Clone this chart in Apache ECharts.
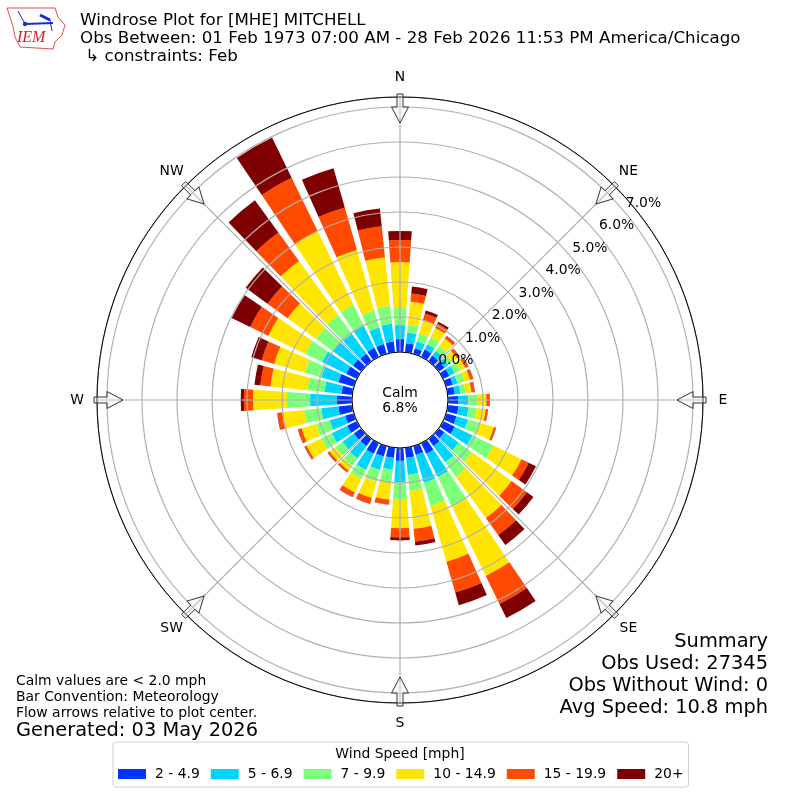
<!DOCTYPE html>
<html><head><meta charset="utf-8">
<style>html,body{margin:0;padding:0;background:#fff}#c{width:800px;height:800px}</style>
<script src="https://cdn.jsdelivr.net/npm/echarts@6/dist/echarts.min.js"></script>
</head><body><div id="c"></div>
<script>
const directions = [0,10,20,30,40,50,60,70,80,90,100,110,120,130,140,150,160,170,180,190,200,210,220,230,240,250,260,270,280,290,300,310,320,330,340,350];
const speed2to5 = [.37,.26,.17,.23,.20,.20,.20,.20,.20,.29,.31,.31,.37,.20,.26,.34,.26,.29,.37,.29,.31,.34,.26,.26,.31,.26,.40,.43,.31,.46,.34,.29,.26,.29,.29,.31];
const speed5to7 = [.40,.31,.20,.17,.17,.14,.17,.14,.17,.29,.29,.34,.57,.51,.57,.74,.83,.49,.60,.34,.40,.51,.43,.40,.49,.46,.49,.77,.49,.51,.77,.71,.71,.71,.49,.51];
const speed7to10 = [.49,.23,.23,.23,.17,.14,.17,.20,.14,.26,.23,.34,.66,.46,.51,.94,.69,.46,.49,.37,.34,.29,.26,.26,.34,.40,.49,.66,.49,.49,.54,.60,.66,.66,.51,.51];
const speed10to15 = [1.31,.66,.40,.29,.26,.17,.17,.17,.17,.26,.26,.43,.89,1.40,1.46,2.20,1.66,1.09,.83,.49,.49,.43,.17,.20,.46,.43,.63,.97,1.06,.91,1.17,1.00,1.91,2.34,1.80,1.40];
const speed15to20 = [.63,.23,.20,.14,.09,.09,.09,.09,.09,.09,.06,.06,.23,.54,.60,.89,.91,.37,.26,.14,.17,.14,.06,.06,.06,.11,.14,.26,.29,.37,.57,.71,1.00,1.69,1.26,.89];
const speed20plus = [.26,.20,.09,.06,.01,.01,.01,.01,.01,.01,.01,.01,.23,.23,.35,.45,.38,.11,.09,.01,.01,.01,.01,.01,.01,.01,.01,.09,.17,.31,.59,.77,1.14,1.28,1.17,.51];
const speedNames = ['2 - 4.9','5 - 6.9','7 - 9.9','10 - 14.9','15 - 19.9','20+'];
const speedColors = ['#0033ff','#00d5ff','#7cff79','#ffe600','#ff4a00','#7f0000'];
const compass = ['N','NE','E','SE','S','SW','W','NW'];
const titleLines = ['Windrose Plot for [MHE] MITCHELL','Obs Between: 01 Feb 1973 07:00 AM - 28 Feb 2026 11:53 PM America/Chicago','\u00a0\u21B3 constraints: Feb'];
const notes = ['Calm values are < 2.0 mph','Bar Convention: Meteorology','Flow arrows relative to plot center.'];
const generated = 'Generated: 03 May 2026';
const summary = ['Summary','Obs Used: 27345','Obs Without Wind: 0','Avg Speed: 10.8 mph'];
const calm = ['Calm','6.8%'];

const FONT = '"DejaVu Sans"';
const CX = 400, CY = 400, R0 = 48, R1 = 303;
const RMAX = 7.286;
const allSpeeds = [speed2to5,speed5to7,speed7to10,speed10to15,speed15to20,speed20plus];

const series = allSpeeds.map((vals,i)=>({
  type:'bar', name:speedNames[i], coordinateSystem:'polar', polarIndex:0, stack:'w',
  barWidth:8, itemStyle:{color:speedColors[i]}, silent:true, animation:false,
  data: vals.map((v,k)=>[v,directions[k]])
}));

function txt(x,y,text,size,align){
  return {type:'text',x,y,z:100,silent:true,style:{text,fill:'#000',font:size+'px '+FONT,textAlign:align||'left',textVerticalAlign:'middle'}};
}
const graphics = [];
titleLines.forEach((t,i)=>graphics.push(txt(80,21+18*i,t,16.7)));
notes.forEach((t,i)=>graphics.push(txt(16,681+16*i,t,13.9)));
graphics.push(txt(16,731,generated,19.4));
summary.forEach((t,i)=>graphics.push(txt(768,641.5+22*i,t,19.4,'right')));
calm.forEach((t,i)=>graphics.push(txt(CX,393+15*i,t,13.9,'center')));
graphics.push(txt(CX,754,'Wind Speed [mph]',13.9,'center'));
compass.forEach((t,i)=>{
  const a=i*Math.PI/4;
  graphics.push(txt(CX+Math.sin(a)*323,CY-Math.cos(a)*323,t,13.9,'center'));
});

// compass arrows
for(let i=0;i<8;i++){
  const a=i*Math.PI/4;
  const dx=Math.sin(a),dy=-Math.cos(a),px=Math.cos(a),py=Math.sin(a);
  const P=(r,w)=>[CX+dx*r+px*w,CY+dy*r+py*w];
  graphics.push({type:'polygon',z:90,silent:true,
    shape:{points:[P(277,0),P(293,8.5),P(293,3),P(306,3),P(306,-3),P(293,-3),P(293,-8.5)]},
    style:{fill:'rgba(235,235,235,0.35)',stroke:'#333',lineWidth:1}});
}
// logo
const logoOutline=[[7,8],[55,8],[58,17],[65,25],[62,35],[55,42],[53,49],[20,47],[15,37],[13,27],[10,17]];
graphics.push({type:'polygon',z:90,silent:true,shape:{points:logoOutline},style:{fill:'#fff',stroke:'#d9534f',lineWidth:1}});
graphics.push({type:'text',x:17,y:38,z:91,silent:true,style:{text:'IEM',fill:'#d21f26',font:'italic 16px "Liberation Serif"',textVerticalAlign:'middle'}});
[[25,24,53,23,2],[40,15,50,20,3],[18,11,24,22,1],[50,20,52,31,1]].forEach(s=>graphics.push({type:'line',z:91,silent:true,shape:{x1:s[0],y1:s[1],x2:s[2],y2:s[3]},style:{stroke:'#1a2bd0',lineWidth:s[4]}}));
graphics.push({type:'circle',z:91,silent:true,shape:{cx:25,cy:24,r:2.2},style:{fill:'#1a2bd0'}});

const option = {
  animation:false, backgroundColor:'#fff',
  polar:[{center:[CX,CY],radius:[R0,R1]},{center:[CX,CY],radius:[R0,R1]}],
  angleAxis:[
    {polarIndex:0,type:'value',min:0,max:360,interval:45,startAngle:90,clockwise:true,z:5,
     axisLine:{show:true,lineStyle:{color:'#000',width:1}},axisTick:{show:false},
     splitLine:{show:true,lineStyle:{color:'#b0b0b0',width:1.2}},
     axisLabel:{show:false}},
    {polarIndex:1,type:'value',min:0,max:360,startAngle:40,clockwise:true,show:false,
     axisLine:{show:false},axisTick:{show:false},splitLine:{show:false},axisLabel:{show:false}}
  ],
  radiusAxis:[
    {polarIndex:0,type:'value',min:0,max:RMAX,interval:1,z:5,
     axisLine:{show:false},axisTick:{show:false},axisLabel:{show:false},
     splitLine:{show:true,lineStyle:{color:'#b0b0b0',width:1.2}}},
    {polarIndex:1,type:'value',min:0,max:RMAX,interval:1,z:20,
     axisLine:{show:false},axisTick:{show:false},splitLine:{show:false},
     axisLabel:{show:true,margin:11.2,align:'left',verticalAlign:'middle',padding:[0,0,0,8.6],color:'#000',fontFamily:FONT,fontSize:13.9,
       showMaxLabel:false,formatter:v=>v>7.01?'':v.toFixed(1)+'%'}}
  ],
  legend:{show:true,left:113,top:742,orient:'horizontal',padding:[25,5,6,5],itemGap:11,itemWidth:28,itemHeight:10,
    data:speedNames.map(n=>({name:n,icon:'rect'})),
    textStyle:{color:'#000',fontFamily:FONT,fontSize:13.9,padding:[0,0,0,4]},
    borderColor:'#d0d0d0',borderWidth:1,borderRadius:3,backgroundColor:'#fff',selectedMode:false},
  series,
  graphic:{elements:graphics}
};
const chart=echarts.init(document.getElementById('c'),null,{renderer:'canvas'});
chart.setOption(option);
</script></body></html>
